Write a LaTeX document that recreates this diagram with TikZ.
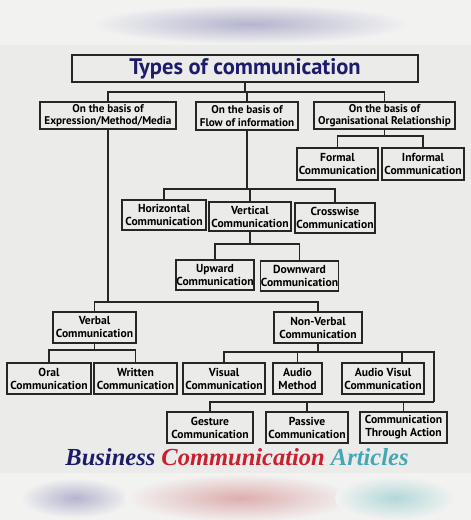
\documentclass[tikz,border=0pt]{standalone}
\usepackage{fontspec}
\setsansfont{PT Sans}
\newfontfamily\footfont{Liberation Serif}
\definecolor{bgc}{HTML}{EBECEA}
\definecolor{navy}{HTML}{1C1C6B}
\definecolor{linec}{HTML}{262626}
\definecolor{redc}{HTML}{C8202E}
\definecolor{tealc}{HTML}{45A7B5}
\definecolor{lav}{HTML}{B4B4CE}
\definecolor{pinkc}{HTML}{DDAEAE}
\definecolor{aqua}{HTML}{B2D8D8}
\tikzset{
  cbox/.style={draw=linec, line width=1.1pt, inner sep=0pt, align=center,
    font=\sffamily\bfseries\fontsize{11.6}{13}\selectfont, text=black},
  topbox/.style={cbox, font=\sffamily\bfseries\fontsize{11.2}{12.5}\selectfont},
  conn/.style={draw=linec, line width=1.1pt}
}
\begin{document}
\begin{tikzpicture}[x=1pt,y=-1pt]
\useasboundingbox (0,0) rectangle (471,520);
\fill[bgc] (0,0) rectangle (471,520);
\fill[white!35!bgc] (0,0) rectangle (471,45);
\shade[inner color=lav, outer color=white!35!bgc] (250,24) ellipse [x radius=160, y radius=20];
\fill[white!35!bgc] (0,473) rectangle (471,520);
\shade[inner color=lav, outer color=white!35!bgc] (75,498) ellipse [x radius=55, y radius=20];
\shade[inner color=pinkc, outer color=white!35!bgc] (240,498) ellipse [x radius=115, y radius=24];
\shade[inner color=aqua, outer color=white!35!bgc] (395,498) ellipse [x radius=60, y radius=22];

\node[cbox, minimum width=346pt, minimum height=27pt, text=navy,
  font=\sffamily\bfseries\fontsize{22.5}{24}\selectfont] (title) at (245,68.5) {Types of communication};

\node[topbox, minimum width=136pt, minimum height=27pt] (A) at (108,115.5) {On the basis of\\Expression/Method/Media};
\node[topbox, minimum width=102pt, minimum height=28pt] (B) at (247,116) {On the basis of\\Flow of information};
\node[topbox, minimum width=141pt, minimum height=27pt] (C) at (384.5,115.5) {On the basis of\\Organisational Relationship};

\node[cbox, minimum width=81pt, minimum height=32pt] (formal) at (337.5,164) {Formal\\Communication};
\node[cbox, minimum width=82pt, minimum height=32pt] (informal) at (423,164) {Informal\\Communication};

\node[cbox, minimum width=84pt, minimum height=30pt] (horiz) at (164,215) {Horizontal\\Communication};
\node[cbox, minimum width=82pt, minimum height=29pt] (vert) at (250,216.5) {Vertical\\Communication};
\node[cbox, minimum width=80pt, minimum height=30pt] (cross) at (335,218) {Crosswise\\Communication};

\node[cbox, minimum width=78pt, minimum height=30pt] (up) at (215,275) {Upward\\Communication};
\node[cbox, minimum width=77pt, minimum height=30pt] (down) at (299.5,276) {Downward\\Communication};

\node[cbox, minimum width=83pt, minimum height=31pt] (verbal) at (94.5,327.5) {Verbal\\Communication};
\node[cbox, minimum width=88pt, minimum height=31pt] (nonverbal) at (318,327.5) {Non-Verbal\\Communication};

\node[cbox, minimum width=84pt, minimum height=31pt] (oral) at (49,378.5) {Oral\\Communication};
\node[cbox, minimum width=83pt, minimum height=31pt] (written) at (135.5,378.5) {Written\\Communication};
\node[cbox, minimum width=82pt, minimum height=31pt] (visual) at (224,378.5) {Visual\\Communication};
\node[cbox, minimum width=49pt, minimum height=31pt] (audio) at (297.5,378.5) {Audio\\Method};
\node[cbox, minimum width=82pt, minimum height=31pt] (av) at (383,378.5) {Audio Visul\\Communication};

\node[cbox, minimum width=86pt, minimum height=31pt] (gesture) at (210,427.5) {Gesture\\Communication};
\node[cbox, minimum width=82pt, minimum height=31pt] (passive) at (307,427.5) {Passive\\Communication};
\node[cbox, minimum width=87pt, minimum height=31pt] (cta) at (403.5,427.5) {Communication\\Through Action};

\node (foot) at (237,457) {\footfont\bfseries\itshape\fontsize{24.5}{26}\selectfont
  \textcolor{navy}{Business} \textcolor{redc}{Communication} \textcolor{tealc}{Articles}};

% bus coordinates
\coordinate (bT) at (245,92);
\coordinate (bC) at (382,136);
\coordinate (bB) at (245,189);
\coordinate (bV) at (253,244);
\coordinate (bA) at (105,302);
\coordinate (bVe) at (94,350);
\coordinate (bN) at (318,352);
\coordinate (bNR) at (434,352);
\coordinate (dAV) at (402,352);
\coordinate (bG) at (434,402);

\draw[conn] (title.south) -- (bT);
\draw[conn] (A.north) |- (bT) -| (C.north);
\draw[conn] (B.north) -- (B.north |- bT);

\draw[conn] (C.south) -- (C.south |- bC);
\draw[conn] (formal.north) |- (bC) -| (informal.north);

\draw[conn] (B.south) -- (B.south |- bB);
\draw[conn] (horiz.north) |- (bB) -| (cross.north);
\draw[conn] (vert.north) -- (vert.north |- bB);

\draw[conn] (vert.south) -- (vert.south |- bV);
\draw[conn] (up.north) |- (bV) -| (down.north);

\draw[conn] (A.south) -- (A.south |- bA);
\draw[conn] (verbal.north) |- (bA) -| (nonverbal.north);

\draw[conn] (verbal.south) -- (verbal.south |- bVe);
\draw[conn] (oral.north) |- (bVe) -| (written.north);

\draw[conn] (nonverbal.south) -- (bN);
\draw[conn] (visual.north) |- (bN) -- (bNR) -- (bG);
\draw[conn] (audio.north) -- (audio.north |- bN);
\draw[conn] (dAV) -- (dAV |- av.north);

\draw[conn] (gesture.north) |- (bG);
\draw[conn] (passive.north) -- (passive.north |- bG);
\draw[conn] (cta.north) -- (cta.north |- bG);
\end{tikzpicture}
\end{document}
